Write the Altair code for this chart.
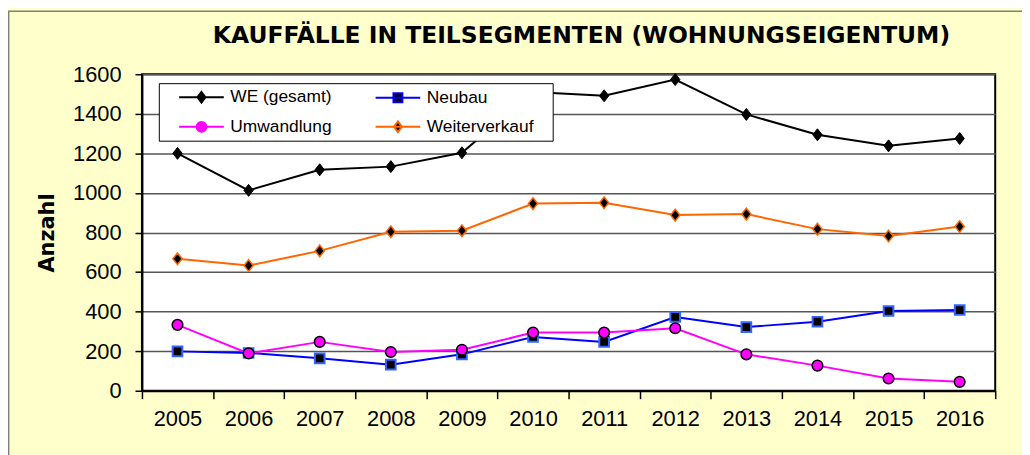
import altair as alt
import pandas as pd

years = [str(y) for y in range(2005, 2017)]
series_names = ["WE (gesamt)", "Neubau", "Umwandlung", "Weiterverkauf"]
we_gesamt = [1200, 1013, 1117, 1133, 1203, 1510, 1491, 1573, 1397, 1294, 1238, 1275]
neubau = [199, 191, 164, 132, 184, 272, 247, 373, 322, 349, 403, 408]
umwandlung = [333, 189, 247, 196, 207, 294, 294, 316, 184, 127, 62, 45]
weiterverkauf = [667, 633, 707, 804, 809, 946, 950, 888, 893, 817, 782, 830]
y_ticks = [0, 200, 400, 600, 800, 1000, 1200, 1400, 1600]

values_by_series = {
    "WE (gesamt)": we_gesamt,
    "Neubau": neubau,
    "Umwandlung": umwandlung,
    "Weiterverkauf": weiterverkauf,
}
rows = []
for s in series_names:
    for yr, v in zip(years, values_by_series[s]):
        rows.append({"Jahr": yr, "Serie": s, "Anzahl": v})
df = pd.DataFrame(rows)

line_colors = ["#000000", "#0000FF", "#FF00FF", "#FF6600"]
legend_fills = ["#000000", "#000000", "#FF00FF", "#000000"]

AX_FONT = "Liberation Sans"
BOLD_FONT = "DejaVu Sans"

x_enc = alt.X(
    "Jahr:N",
    sort=years,
    scale=alt.Scale(type="band", paddingInner=0, paddingOuter=0),
    axis=alt.Axis(
        title=None, labelAngle=0, tickBand="extent", tickSize=8, tickColor="#000",
        tickWidth=1.5, labelFont=AX_FONT, labelFontSize=22, labelColor="#000",
        labelBaseline="alphabetic", labelPadding=27, domainColor="#000",
        domainWidth=2, grid=False,
    ),
)
y_enc = alt.Y(
    "Anzahl:Q",
    scale=alt.Scale(domain=[0, 1600], nice=False, zero=True),
    axis=alt.Axis(
        values=y_ticks, format="d", labelOverlap=False, title="Anzahl",
        titleFont=BOLD_FONT, titleFontSize=21,
        titleFontWeight="bold", titleColor="#000", titleAngle=270, titleX=-95,
        titleY=159.5, titleAlign="center", titleBaseline="middle",
        tickSize=7, tickColor="#000", tickWidth=1.5, labelFont=AX_FONT,
        labelFontSize=22, labelColor="#000", labelPadding=14,
        domainColor="#000", domainWidth=2, grid=True, gridColor="#555555",
        gridWidth=1.5,
    ),
)

# legend symbol paths (unit r = 9px): line segment + marker
P_WE = "M-2.5,0H2.5M0,-0.6L0.45,0L0,0.6L-0.45,0Z"
P_NB = "M-2.5,0H2.5M-0.5,-0.5H0.5V0.5H-0.5Z"
P_UW = "M-2.5,0H2.5M0.55,0A0.55,0.55 0 1,1 -0.55,0A0.55,0.55 0 1,1 0.55,0Z"
P_WV = "M-2.5,0H2.5M0,-0.6L0.45,0L0,0.6L-0.45,0Z"
legend_shapes = [P_WE, P_NB, P_UW, P_WV]

legend = alt.Legend(
    title=None, orient="none", legendX=37.5, legendY=13, columns=2,
    direction="horizontal", padding=0,
    labelFont=AX_FONT, labelFontSize=17.5, labelColor="#000",
    symbolSize=324, symbolStrokeWidth=2, symbolOffset=12.5, labelOffset=19,
    rowPadding=10, columnPadding=40, symbolOpacity=1,
)

stroke_scale = alt.Scale(domain=series_names, range=line_colors)
base = alt.Chart(df)

lines = base.mark_line(strokeWidth=2).encode(
    x=x_enc,
    y=y_enc,
    stroke=alt.Stroke("Serie:N", scale=stroke_scale, legend=legend),
)

legend_layer = base.transform_filter("false").mark_point(filled=True, opacity=1).encode(
    x=x_enc,
    y=y_enc,
    stroke=alt.Stroke("Serie:N", scale=stroke_scale, legend=legend),
    fill=alt.Fill("Serie:N", scale=alt.Scale(domain=series_names, range=legend_fills),
                  legend=legend),
    shape=alt.Shape("Serie:N", scale=alt.Scale(domain=series_names, range=legend_shapes),
                    legend=legend),
)

DIAMOND = "M0,-1.15L0.9,0L0,1.15L-0.9,0Z"
marker_styles = [
    ("WE (gesamt)", DIAMOND, "#000000", "#000000", 110, 1),
    ("Neubau", "square", "#000000", "#3366FF", 95, 2),
    ("Umwandlung", "circle", "#FF00FF", "#000000", 115, 1.5),
    ("Weiterverkauf", DIAMOND, "#000000", "#FF6600", 105, 1.5),
]
point_layers = []
for name, shp, fillc, strokec, size, sw in marker_styles:
    point_layers.append(
        base.transform_filter(alt.datum.Serie == name)
        .mark_point(shape=shp, filled=True, fill=fillc, stroke=strokec, size=size,
                    strokeWidth=sw, opacity=1)
        .encode(x=x_enc, y=y_enc)
    )

one = pd.DataFrame({"d": [0]})
frame = alt.Chart(one).mark_rect(
    fillOpacity=0, stroke="#808080", strokeWidth=1.5
).encode(x=alt.value(-134.3), x2=alt.value(1200), y=alt.value(-63.5), y2=alt.value(700))

legend_box = alt.Chart(one).mark_rect(
    fill="#FFFFFF", stroke="#000000", strokeWidth=1
).encode(x=alt.value(17.5), x2=alt.value(414.5), y=alt.value(9.5), y2=alt.value(67.5))

chart = alt.layer(frame, lines, *point_layers, legend_box, legend_layer).properties(
    width=860,
    height=319,
    padding={"left": 135, "top": 65, "right": 27, "bottom": 63},
    autosize=alt.AutoSizeParams(type="none"),
    background="#FFFFCC",
    title=alt.TitleParams(
        "KAUFFÄLLE IN TEILSEGMENTEN (WOHNUNGSEIGENTUM)",
        font=BOLD_FONT, fontSize=23.6, fontWeight="bold", color="#000",
        anchor="middle", frame="group", dx=13, baseline="alphabetic", offset=0, dy=56,
    ),
).configure_view(stroke="#000", strokeWidth=2, fill="#FFFFFF")

chart.save("out.html", embed_options={"renderer": "svg", "actions": False})
